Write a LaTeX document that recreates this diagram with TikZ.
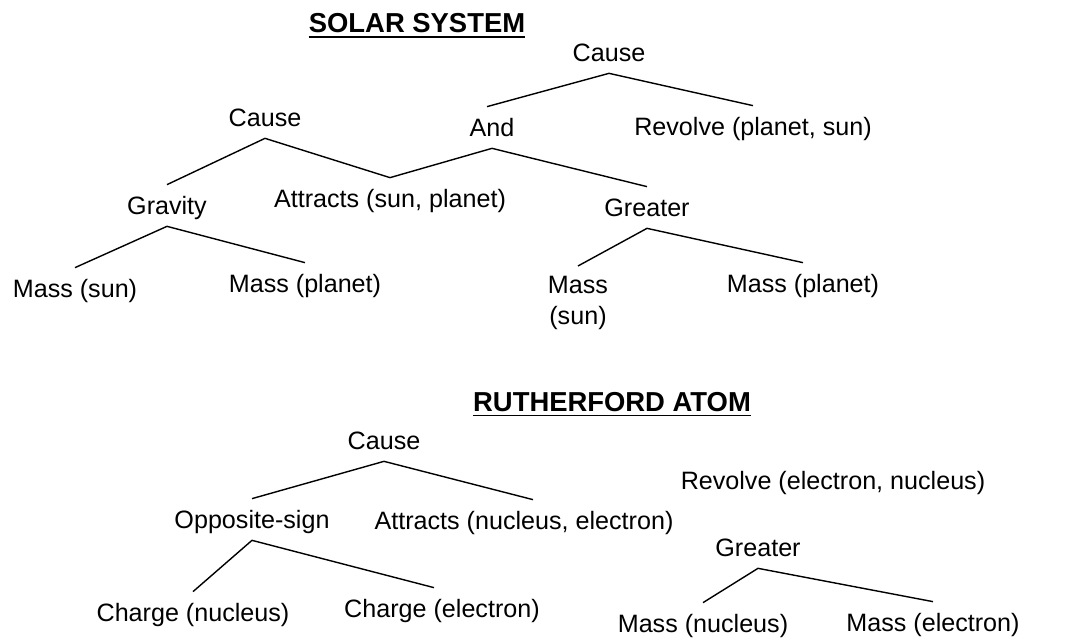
\documentclass[tikz,border=0pt]{standalone}
\usepackage{fontspec}
\setmainfont{Liberation Sans}

\begin{document}
\begin{tikzpicture}[
    every node/.style={font=\fontsize{14.3}{17.5}\selectfont},
    term/.style={anchor=base, inner xsep=2pt, inner ysep=0.12cm, text height=0.48cm, text depth=0.1cm},
    heading/.style={anchor=base, inner xsep=0pt, font=\fontsize{15.6}{18}\selectfont\bfseries},
    branch/.style={line width=0.8pt},
    rule/.style={line width=1.1pt}
]

    \useasboundingbox (0,0) rectangle (21.32,12.82);

    % solar system
    \node[heading] (ttlSolar) at (8.34, 12.16) {SOLAR SYSTEM};
    \draw[rule] ([yshift=-0.08cm]ttlSolar.base west) -- ([yshift=-0.08cm]ttlSolar.base east);

    \node[term] (causeTop)    at (12.18, 11.58) {Cause};
    \node[term] (causeMid)    at (5.30, 10.28)  {Cause};
    \node[term] (and)         at (9.84, 10.08)  {And};
    \node[term] (revolvePS)   at (15.06, 10.10) {Revolve (planet, sun)};
    \node[term] (attractsSP)  at (7.80, 8.66)   {Attracts (sun, planet)};
    \node[term] (gravity)     at (3.34, 8.52)   {Gravity};
    \node[term] (greaterS)    at (12.94, 8.48)  {Greater};
    \node[term] (massSun)     at (1.50, 6.86)   {Mass (sun)};
    \node[term] (massPlanetL) at (6.10, 6.96)   {Mass (planet)};
    \node[align=center, anchor=north, inner ysep=0.2cm] (massSunR) at (11.56, 7.50) {Mass\\(sun)};
    \node[term] (massPlanetR) at (16.06, 6.96)  {Mass (planet)};

    \draw[branch] ([xshift=-0.1cm]and.north) -- (causeTop.south) -- (revolvePS.north);
    \draw[branch] (gravity.north) -- (causeMid.south) -- (attractsSP.north);
    \draw[branch] (attractsSP.north) -- (and.south) -- (greaterS.north);
    \draw[branch] (massSun.north) -- (gravity.south) -- (massPlanetL.north);
    \draw[branch] (massSunR.north) -- (greaterS.south) -- (massPlanetR.north);

    % rutherford atom
    \node[heading] (ttlAtom) at (12.24, 4.58) {RUTHERFORD ATOM};
    \draw[rule] ([yshift=-0.07cm]ttlAtom.base west) -- ([yshift=-0.07cm]ttlAtom.base east);

    \node[term] (causeR)     at (7.68, 3.82)  {Cause};
    \node[term] (opposite)   at (5.04, 2.24)  {Opposite-sign};
    \node[term] (attractsNE) at (10.48, 2.22) {Attracts (nucleus, electron)};
    \node[term] (chargeNuc)  at (3.86, 0.38)  {Charge (nucleus)};
    \node[term] (chargeEl)   at (8.84, 0.46)  {Charge (electron)};
    \node[term] (revolveEN)  at (16.66, 3.02) {Revolve (electron, nucleus)};
    \node[term] (greaterR)   at (15.16, 1.68) {Greater};
    \node[term] (massNuc)    at (14.06, 0.16) {Mass (nucleus)};
    \node[term] (massEl)     at (18.66, 0.18) {Mass (electron)};

    \draw[branch] (opposite.north) -- (causeR.south) -- ([xshift=0.18cm]attractsNE.north);
    \draw[branch] (chargeNuc.north) -- (opposite.south) -- ([xshift=-0.16cm]chargeEl.north);
    \draw[branch] (massNuc.north) -- (greaterR.south) -- (massEl.north);

\end{tikzpicture}
\end{document}
